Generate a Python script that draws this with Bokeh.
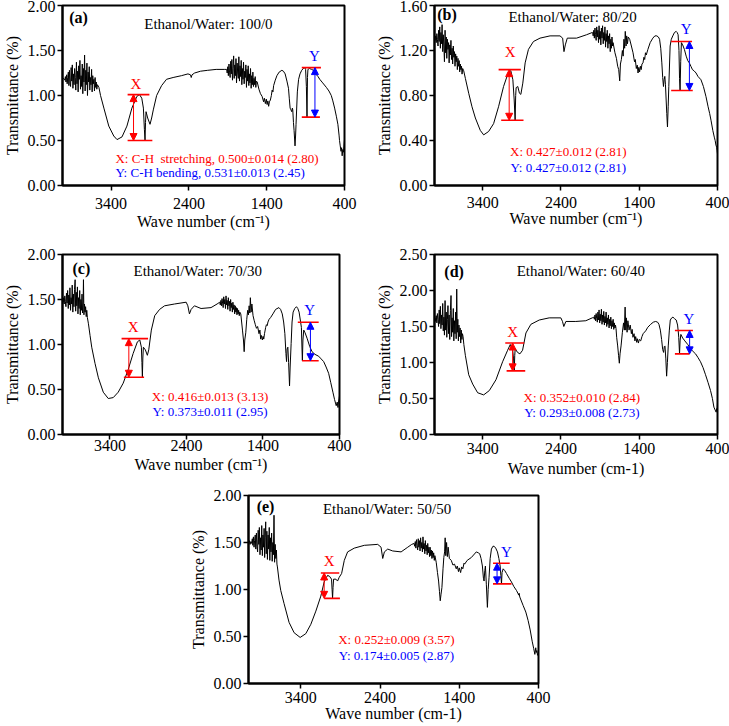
from bokeh.plotting import figure
from bokeh.layouts import column, row
from bokeh.models import Range1d, FixedTicker, NumeralTickFormatter, Arrow, NormalHead
from bokeh.core.properties import value
from bokeh.embed import file_html
from bokeh.resources import INLINE

FONT = "Liberation Serif"
RED = "#ff0000"
BLUE = "#0000ff"

x_ticks = [3400, 2400, 1400, 400]

# ---------------- spectra (wave number, transmittance) ----------------
spec_a = [(4025,1.18),(4010,1.19),(3995,1.17),(3988,1.21),(3980,1.15),(3972,1.23),(3965,1.13),(3958,1.20),(3950,1.26),(3943,1.11),(3936,1.28),(3928,1.14),(3921,1.10),(3914,1.31),(3906,1.16),(3899,1.34),(3891,1.08),(3884,1.24),(3876,1.12),(3869,1.30),(3861,1.20),(3854,1.06),(3846,1.37),(3839,1.13),(3831,1.27),(3824,1.04),(3816,1.33),(3809,1.18),(3801,1.39),(3794,1.07),(3786,1.22),(3779,1.10),(3771,1.35),(3764,1.02),(3756,1.30),(3749,1.15),(3741,1.45),(3734,1.05),(3726,1.28),(3719,1.12),(3711,1.36),(3704,1.00),(3696,1.26),(3689,1.15),(3681,1.32),(3674,1.06),(3666,1.20),(3659,1.12),(3651,1.29),(3644,1.04),(3636,1.22),(3629,1.13),(3621,1.18),(3614,1.05),(3606,1.20),(3599,1.09),(3591,1.15),(3584,1.07),(3576,1.12),
          (3557,1.09),(3536,1.00),(3493,0.86),(3430,0.66),(3366,0.55),(3324,0.51),(3260,0.54),(3197,0.66),(3133,0.86),(3069,0.99),(3035,1.01),(3006,0.97),(2985,0.86),(2972,0.62),(2964,0.50),(2958,0.70),(2951,0.82),(2930,0.75),(2900,0.68),(2879,0.75),(2858,0.84),(2815,1.00),(2751,1.11),(2688,1.18),(2603,1.20),(2497,1.22),(2412,1.24),(2380,1.23),(2370,1.20),(2360,1.23),(2327,1.25),(2250,1.27),(2158,1.28),(2050,1.29),(1946,1.29),
          (1915,1.29),(1908,1.25),(1900,1.32),(1893,1.22),(1885,1.35),(1878,1.26),(1870,1.20),(1863,1.38),(1855,1.24),(1848,1.40),(1840,1.17),(1833,1.30),(1825,1.44),(1818,1.19),(1810,1.34),(1803,1.22),(1795,1.41),(1788,1.14),(1780,1.36),(1773,1.25),(1765,1.19),(1758,1.43),(1750,1.16),(1743,1.33),(1735,1.21),(1728,1.39),(1720,1.12),(1713,1.30),(1705,1.18),(1698,1.37),(1690,1.13),(1683,1.27),(1675,1.20),(1668,1.34),(1660,1.09),(1653,1.29),(1645,1.16),(1638,1.33),(1630,1.11),(1623,1.24),(1615,1.14),(1608,1.30),(1600,1.08),(1593,1.22),(1585,1.12),(1578,1.26),(1570,1.10),(1563,1.19),(1555,1.12),(1548,1.21),(1540,1.09),(1533,1.16),
          (1522,1.15),(1500,1.07),(1480,1.02),(1459,0.99),(1440,0.93),(1430,0.97),(1417,0.91),(1405,0.96),(1395,0.90),(1385,0.94),(1375,0.88),(1365,0.93),(1353,0.95),(1340,1.00),(1330,1.06),(1320,1.04),(1311,1.11),(1290,1.17),(1269,1.22),(1240,1.26),(1205,1.28),(1185,1.27),(1163,1.24),(1140,1.16),(1120,1.08),(1110,0.97),(1099,0.86),(1088,0.84),(1078,0.82),(1070,0.86),(1065,0.84),(1056,0.70),(1048,0.61),(1036,0.44),(1029,0.55),(1023,0.68),(1006,1.04),(990,1.18),(972,1.24),(950,1.28),(930,1.30),(910,1.31),(900,1.29),(890,1.10),(882,0.76),(876,1.20),(870,1.29),(850,1.30),(824,1.29),(800,1.28),(782,1.27),(760,1.23),(740,1.21),(718,1.18),(680,1.14),(633,1.09),(600,1.05),(570,1.00),(550,0.94),(527,0.86),(505,0.77),(485,0.68),(470,0.56),(464,0.50),(455,0.44),(445,0.38),(437,0.42),(430,0.33),(422,0.40),(413,0.37),(405,0.46),(400,0.51)]

spec_b = [(4015,1.31),(4008,1.29),(4000,1.33),(3993,1.27),(3985,1.35),(3978,1.30),(3970,1.24),(3963,1.38),(3955,1.28),(3948,1.41),(3940,1.22),(3933,1.36),(3925,1.26),(3918,1.43),(3910,1.19),(3903,1.34),(3895,1.24),(3888,1.10),(3880,1.38),(3873,1.18),(3865,1.32),(3858,1.13),(3850,1.30),(3843,1.21),(3835,1.27),(3828,1.09),(3820,1.25),(3813,1.16),(3805,1.29),(3798,1.12),(3790,1.22),(3783,1.08),(3775,1.24),(3768,1.14),(3760,1.19),(3753,1.06),(3745,1.17),(3738,1.10),(3730,1.15),(3723,1.03),(3715,1.13),(3708,1.06),(3700,1.11),(3693,1.01),(3685,1.08),(3678,1.03),(3670,1.06),(3663,0.99),(3655,1.04),
          (3642,1.02),(3620,0.95),(3578,0.82),(3536,0.70),(3493,0.60),(3430,0.49),(3387,0.45),(3324,0.48),(3260,0.55),(3197,0.70),(3133,0.88),(3069,1.01),(3040,1.02),(3014,0.94),(2997,0.76),(2985,0.58),(2978,0.80),(2972,0.87),(2951,0.88),(2930,0.82),(2912,0.81),(2887,0.91),(2857,1.09),(2815,1.21),(2751,1.28),(2667,1.31),(2539,1.33),(2412,1.33),(2378,1.31),(2361,1.19),(2344,1.25),(2319,1.31),(2200,1.31),(2073,1.34),(2000,1.36),
          (1995,1.36),(1988,1.33),(1980,1.38),(1973,1.31),(1965,1.40),(1958,1.34),(1950,1.29),(1943,1.41),(1935,1.32),(1928,1.38),(1920,1.27),(1913,1.42),(1905,1.30),(1898,1.37),(1890,1.25),(1883,1.40),(1875,1.31),(1868,1.42),(1860,1.26),(1853,1.36),(1845,1.29),(1838,1.41),(1830,1.23),(1823,1.35),(1815,1.28),(1808,1.38),(1800,1.22),(1793,1.33),(1785,1.26),(1778,1.35),(1770,1.19),(1763,1.30),(1755,1.22),(1748,1.32),(1740,1.24),
          (1734,1.27),(1710,1.18),(1691,1.13),(1675,1.06),(1662,1.03),(1649,0.93),(1640,1.08),(1628,1.12),(1615,1.20),(1605,1.15),(1595,1.30),(1586,1.22),(1578,1.37),(1568,1.24),(1560,1.33),(1550,1.26),(1540,1.32),(1522,1.30),(1500,1.24),(1479,1.18),(1460,1.10),(1450,1.12),(1437,1.04),(1425,1.07),(1415,1.00),(1405,1.05),(1395,1.01),(1385,1.06),(1375,1.03),(1365,1.08),(1352,1.09),(1340,1.14),(1330,1.12),(1320,1.18),(1310,1.16),(1289,1.21),(1260,1.27),(1226,1.31),(1200,1.33),(1175,1.33),(1155,1.32),(1140,1.30),(1125,1.22),(1111,1.09),(1100,0.96),(1090,0.88),(1082,0.94),(1073,0.97),(1065,0.90),(1056,0.76),(1048,0.64),(1039,0.52),(1030,0.70),(1022,0.88),(1005,1.24),(990,1.30),(971,1.33),(950,1.36),(928,1.37),(915,1.36),(903,1.34),(892,1.20),(885,0.95),(878,0.845),(870,1.10),(861,1.27),(845,1.25),(823,1.21),(800,1.15),(780,1.11),(760,1.09),(740,1.06),(720,1.03),(700,1.02),(674,1.00),(650,0.97),(611,0.94),(580,0.88),(547,0.79),(520,0.70),(500,0.64),(483,0.58),(460,0.49),(441,0.43),(430,0.40),(420,0.36),(411,0.34),(405,0.31),(400,0.28)]

spec_c = [(4020,1.50),(4013,1.47),(4005,1.52),(3998,1.45),(3990,1.54),(3983,1.48),(3975,1.42),(3968,1.57),(3960,1.46),(3953,1.60),(3945,1.40),(3938,1.55),(3930,1.44),(3923,1.63),(3915,1.38),(3908,1.52),(3900,1.45),(3893,1.66),(3885,1.36),(3878,1.56),(3870,1.42),(3863,1.61),(3855,1.72),(3848,1.37),(3840,1.58),(3833,1.43),(3825,1.64),(3818,1.34),(3810,1.52),(3803,1.40),(3795,1.60),(3788,1.33),(3780,1.50),(3773,1.38),(3765,1.56),(3758,1.35),(3750,1.47),(3746,1.72),(3740,1.33),(3733,1.45),(3725,1.36),(3718,1.42),(3710,1.31),(3703,1.38),(3695,1.30),
          (3681,1.23),(3660,1.10),(3638,0.97),(3595,0.79),(3551,0.63),(3487,0.47),(3422,0.40),(3357,0.41),(3292,0.47),(3227,0.57),(3162,0.72),(3097,0.90),(3041,1.03),(3010,1.05),(2989,0.97),(2982,0.80),(2976,0.64),(2970,0.85),(2963,0.97),(2937,0.94),(2911,0.88),(2893,0.94),(2859,1.16),(2815,1.32),(2751,1.39),(2686,1.43),(2556,1.45),(2404,1.47),(2382,1.43),(2361,1.34),(2339,1.39),(2296,1.43),(2209,1.40),(2079,1.41),(2000,1.45),
          (1965,1.47),(1958,1.44),(1950,1.49),(1943,1.43),(1935,1.51),(1928,1.46),(1920,1.41),(1913,1.53),(1905,1.45),(1898,1.50),(1890,1.40),(1883,1.54),(1875,1.44),(1868,1.49),(1860,1.39),(1853,1.52),(1845,1.43),(1838,1.48),(1830,1.37),(1823,1.50),(1815,1.41),(1808,1.46),(1800,1.36),(1793,1.47),(1785,1.39),(1778,1.44),(1770,1.34),(1763,1.43),(1755,1.36),(1748,1.41),(1740,1.33),(1733,1.40),(1725,1.34),(1718,1.38),(1710,1.32),(1703,1.36),
          (1690,1.34),(1668,1.16),(1655,1.05),(1646,0.92),(1638,1.05),(1625,1.13),(1612,1.28),(1600,1.38),(1590,1.33),(1581,1.43),(1572,1.35),(1565,1.52),(1555,1.36),(1545,1.45),(1530,1.32),(1516,1.27),(1500,1.22),(1485,1.18),(1470,1.20),(1452,1.12),(1440,1.16),(1430,1.06),(1420,1.10),(1408,1.05),(1398,1.09),(1390,1.06),(1380,1.12),(1365,1.19),(1355,1.22),(1345,1.21),(1335,1.25),(1320,1.28),(1300,1.30),(1270,1.34),(1235,1.39),(1192,1.41),(1170,1.39),(1148,1.34),(1130,1.25),(1114,1.12),(1100,0.90),(1092,0.81),(1085,0.95),(1075,0.97),(1065,0.80),(1053,0.54),(1045,0.75),(1032,1.01),(1020,1.25),(1006,1.36),(985,1.40),(962,1.42),(945,1.40),(928,1.36),(910,1.26),(898,1.19),(890,0.95),(885,0.82),(878,1.05),(867,1.16),(850,1.13),(824,1.07),(790,0.98),(759,0.92),(720,0.89),(673,0.87),(640,0.84),(607,0.81),(575,0.75),(542,0.68),(515,0.58),(486,0.47),(465,0.39),(443,0.32),(430,0.36),(420,0.30),(413,0.36),(405,0.40),(400,0.43)]

spec_d = [(4015,1.60),(4008,1.62),(4000,1.57),(3993,1.65),(3985,1.55),(3978,1.68),(3970,1.60),(3963,1.50),(3955,1.73),(3948,1.54),(3940,1.78),(3933,1.47),(3925,1.66),(3918,1.52),(3910,1.82),(3903,1.44),(3895,1.63),(3888,1.38),(3880,1.86),(3873,1.45),(3865,1.70),(3858,1.35),(3850,1.60),(3843,1.79),(3835,1.40),(3828,1.66),(3820,1.32),(3812,1.72),(3804,1.93),(3797,1.36),(3790,1.62),(3783,1.42),(3775,1.75),(3768,1.30),(3760,1.58),(3753,1.40),(3745,1.70),(3738,1.33),(3731,2.02),(3724,1.42),(3717,1.60),(3710,1.30),(3703,1.52),(3695,1.36),(3688,1.48),(3680,1.27),(3673,1.45),(3665,1.32),(3658,1.40),
          (3650,1.36),(3640,1.25),(3621,1.10),(3578,0.83),(3527,0.70),(3464,0.58),(3387,0.55),(3315,0.61),(3230,0.76),(3145,1.01),(3081,1.17),(3047,1.25),(3017,1.17),(3005,1.05),(2996,0.884),(2990,1.10),(2984,1.19),(2954,1.14),(2924,1.12),(2890,1.17),(2847,1.41),(2784,1.53),(2677,1.59),(2550,1.62),(2401,1.62),(2380,1.57),(2363,1.50),(2337,1.57),(2210,1.57),(2082,1.58),(2000,1.62),
          (1980,1.63),(1973,1.60),(1965,1.66),(1958,1.58),(1950,1.68),(1943,1.61),(1935,1.56),(1928,1.70),(1920,1.59),(1913,1.73),(1905,1.55),(1898,1.67),(1890,1.58),(1883,1.74),(1875,1.53),(1868,1.66),(1860,1.56),(1853,1.71),(1845,1.52),(1838,1.64),(1830,1.55),(1823,1.70),(1815,1.50),(1808,1.62),(1800,1.53),(1793,1.66),(1785,1.48),(1778,1.60),(1770,1.51),(1763,1.63),(1755,1.47),(1748,1.58),(1740,1.50),(1733,1.60),(1725,1.46),(1718,1.55),(1710,1.48),(1703,1.52),
          (1696,1.47),(1688,1.35),(1675,1.23),(1664,1.10),(1654,0.99),(1645,1.12),(1632,1.23),(1615,1.42),(1600,1.55),(1590,1.45),(1580,1.77),(1572,1.45),(1565,1.62),(1555,1.42),(1545,1.58),(1530,1.45),(1515,1.52),(1500,1.40),(1490,1.46),(1480,1.35),(1466,1.40),(1455,1.30),(1445,1.36),(1432,1.28),(1424,1.33),(1410,1.27),(1400,1.32),(1381,1.30),(1365,1.36),(1350,1.40),(1317,1.44),(1290,1.49),(1254,1.53),(1220,1.56),(1190,1.57),(1165,1.56),(1148,1.53),(1130,1.45),(1114,1.32),(1100,1.18),(1088,1.14),(1080,1.22),(1071,1.23),(1060,1.05),(1050,0.81),(1040,1.00),(1029,1.23),(1015,1.45),(1003,1.59),(985,1.62),(969,1.63),(950,1.61),(927,1.59),(910,1.52),(902,1.44),(895,1.35),(885,1.12),(878,1.30),(868,1.39),(845,1.34),(817,1.30),(780,1.25),(744,1.19),(710,1.15),(680,1.12),(650,1.07),(617,1.01),(585,0.93),(553,0.83),(520,0.72),(489,0.61),(465,0.50),(446,0.38),(430,0.34),(417,0.31),(410,0.36),(405,0.33),(400,0.45)]

spec_e = [(4060,1.50),(4050,1.52),(4040,1.48),(4030,1.51),(4020,1.49),(4012,1.54),(4005,1.47),(3998,1.56),(3990,1.45),(3983,1.52),(3975,1.58),(3968,1.43),(3960,1.60),(3953,1.46),(3945,1.40),(3938,1.63),(3930,1.48),(3923,1.66),(3915,1.37),(3908,1.55),(3900,1.42),(3893,1.68),(3885,1.36),(3878,1.58),(3870,1.45),(3863,1.65),(3856,1.34),(3850,1.55),(3843,1.72),(3836,1.38),(3828,1.62),(3821,1.32),(3813,1.58),(3806,1.43),(3798,1.66),(3791,1.31),(3783,1.55),(3776,1.40),(3768,1.60),(3761,1.30),(3753,1.50),(3746,1.37),(3738,1.79),(3731,1.29),(3723,1.48),(3716,1.33),(3708,1.42),(3701,1.27),
          (3695,1.24),(3675,1.10),(3653,0.99),(3611,0.85),(3548,0.65),(3484,0.54),(3408,0.49),(3337,0.53),(3273,0.63),(3210,0.77),(3147,0.93),(3105,1.08),(3062,1.15),(3037,1.14),(3012,1.11),(3005,1.00),(2999,0.906),(2993,1.02),(2986,1.11),(2957,1.11),(2936,1.09),(2915,1.13),(2885,1.17),(2851,1.31),(2809,1.40),(2725,1.44),(2598,1.47),(2429,1.48),(2387,1.45),(2366,1.33),(2345,1.40),(2303,1.43),(2240,1.41),(2134,1.40),(2050,1.45),(2000,1.48),
          (1970,1.49),(1963,1.46),(1955,1.51),(1948,1.44),(1940,1.53),(1933,1.47),(1925,1.42),(1918,1.54),(1910,1.45),(1903,1.52),(1895,1.41),(1888,1.55),(1880,1.44),(1873,1.50),(1865,1.40),(1858,1.56),(1850,1.43),(1843,1.49),(1835,1.38),(1828,1.52),(1820,1.41),(1813,1.47),(1805,1.37),(1798,1.49),(1790,1.39),(1783,1.45),(1775,1.35),(1768,1.45),(1760,1.36),(1753,1.42),(1745,1.33),(1738,1.41),(1730,1.34),(1723,1.39),(1715,1.31),(1708,1.36),
          (1691,1.29),(1675,1.18),(1661,1.09),(1650,0.98),(1640,0.88),(1630,0.95),(1619,1.02),(1605,1.22),(1595,1.34),(1585,1.40),(1578,1.55),(1570,1.36),(1560,1.50),(1550,1.35),(1540,1.45),(1525,1.33),(1501,1.31),(1480,1.26),(1460,1.27),(1438,1.22),(1425,1.25),(1410,1.19),(1400,1.23),(1383,1.18),(1370,1.24),(1355,1.22),(1340,1.28),(1332,1.27),(1300,1.31),(1248,1.34),(1185,1.40),(1160,1.39),(1142,1.38),(1125,1.33),(1108,1.25),(1095,1.12),(1087,1.09),(1078,1.20),(1070,1.25),(1058,1.05),(1045,0.81),(1035,1.00),(1024,1.13),(1010,1.33),(994,1.43),(975,1.46),(960,1.46),(940,1.44),(918,1.40),(900,1.33),(884,1.25),(875,1.15),(867,1.06),(860,1.18),(846,1.22),(825,1.20),(804,1.17),(770,1.12),(741,1.08),(710,1.03),(678,0.99),(660,0.96),(650,0.94),(645,0.96),(636,0.92),(594,0.83),(560,0.76),(531,0.67),(505,0.57),(480,0.45),(460,0.37),(446,0.31),(435,0.38),(428,0.33),(421,0.35),(412,0.30),(404,0.31),(400,0.36)]

# ---------------- X / Y band markers: (x_left, x_right, level) ----------------
x_top_a, x_bot_a, x_arrow_a = (3188, 2908, 1.01), (3188, 2870, 0.50), 3112
y_top_a, y_bot_a, y_arrow_a = (949, 703, 1.31), (949, 716, 0.76), 780
x_top_b, x_bot_b, x_arrow_b = (3196, 2912, 1.03), (3163, 2878, 0.58), 3061
y_top_b, y_bot_b, y_arrow_b = (992, 725, 1.28), (992, 716, 0.845), 759
x_top_c, x_bot_c, x_arrow_c = (3248, 2902, 1.065), (3218, 2954, 0.636), 3153
y_top_c, y_bot_c, y_arrow_c = (945, 672, 1.247), (889, 672, 0.82), 780
x_top_d, x_bot_d, x_arrow_d = (3111, 2869, 1.27), (3094, 2856, 0.884), 3017
y_top_d, y_bot_d, y_arrow_d = (944, 714, 1.445), (944, 756, 1.12), 756
x_top_e, x_bot_e, x_arrow_e = (3147, 2915, 1.176), (3105, 2906, 0.906), 3105
y_top_e, y_bot_e, y_arrow_e = (974, 763, 1.28), (974, 741, 1.06), 923

titles = ["Ethanol/Water: 100/0", "Ethanol/Water: 80/20", "Ethanol/Water: 70/30",
          "Ethanol/Water: 60/40", "Ethanol/Water: 50/50"]
letters = ["(a)", "(b)", "(c)", "(d)", "(e)"]
x_texts = ["X: C-H\u00a0 stretching, 0.500\u00b10.014 (2.80)", "X: 0.427\u00b10.012 (2.81)",
           "X: 0.416\u00b10.013 (3.13)", "X: 0.352\u00b10.010 (2.84)", "X: 0.252\u00b10.009 (3.57)"]
y_texts = ["Y: C-H bending, 0.531\u00b10.013 (2.45)", "Y: 0.427\u00b10.012 (2.81)",
           "Y: 0.373\u00b10.011 (2.95)", "Y: 0.293\u00b10.008 (2.73)", "Y: 0.174\u00b10.005 (2.87)"]
x_labels = ["Wave number (cm\u207b\u00b9)", "Wave number (cm\u207b\u00b9)", "Wave number (cm\u207b\u00b9)",
            "Wave number (cm-1)", "Wave number (cm-1)"]
y_max = [2.0, 1.6, 2.0, 2.5, 2.0]
y_step = [0.5, 0.4, 0.5, 0.5, 0.5]
x_start = [4025, 4015, 4020, 4015, 4060]

# ---------------- layout / placement (styles) ----------------
geo = [
    dict(w=372, h=240, l=58, r=28, t=5, b=52, ts=7, ls=1),
    dict(w=357, h=240, l=60, r=12, t=5, b=55, ts=6, ls=-1),
    dict(w=372, h=245, l=60, r=33, t=11, b=51, ts=0, ls=2),
    dict(w=357, h=245, l=61, r=12, t=14, b=45, ts=3, ls=3),
    dict(w=729, h=241, l=248, r=191, t=10, b=43, ts=3, ls=-1),
]
# text anchors in data units
place = [
    dict(letter=(3938, 1.87), title=(2149, 1.79), xl=(3082, 1.13), yl=(788, 1.44), txt=(3345, 0.30, 0.145, "left")),
    dict(letter=(3981, 1.52), title=(2251, 1.50), xl=(3048, 1.19), yl=(801, 1.39), txt=(2306, 0.30, 0.16, "center")),
    dict(letter=(3889, 1.85), title=(2253, 1.82), xl=(3097, 1.19), yl=(789, 1.385), txt=(2092, 0.42, 0.26, "center")),
    dict(letter=(3889, 2.27), title=(2146, 2.27), xl=(3017, 1.42), yl=(765, 1.60), txt=(2133, 0.51, 0.30, "center")),
    dict(letter=(3957, 1.88), title=(2311, 1.86), xl=(3041, 1.30), yl=(805, 1.40), txt=(2193, 0.465, 0.295, "center")),
]

specs = [spec_a, spec_b, spec_c, spec_d, spec_e]
marks = [
    (x_top_a, x_bot_a, x_arrow_a, y_top_a, y_bot_a, y_arrow_a),
    (x_top_b, x_bot_b, x_arrow_b, y_top_b, y_bot_b, y_arrow_b),
    (x_top_c, x_bot_c, x_arrow_c, y_top_c, y_bot_c, y_arrow_c),
    (x_top_d, x_bot_d, x_arrow_d, y_top_d, y_bot_d, y_arrow_d),
    (x_top_e, x_bot_e, x_arrow_e, y_top_e, y_bot_e, y_arrow_e),
]


def band(p, top, bot, ax, color):
    p.segment(x0=[top[0], bot[0]], y0=[top[2], bot[2]], x1=[top[1], bot[1]], y1=[top[2], bot[2]],
              line_color=RED, line_width=1.6)
    p.add_layout(Arrow(start=NormalHead(size=7, fill_color=color, line_color=color),
                       end=NormalHead(size=7, fill_color=color, line_color=color),
                       x_start=ax, y_start=bot[2], x_end=ax, y_end=top[2],
                       line_color=color, line_width=1))


def make_panel(i):
    g = geo[i]
    pl = place[i]
    p = figure(width=g["w"], height=g["h"], min_border_left=g["l"], min_border_right=g["r"],
               min_border_top=g["t"], min_border_bottom=g["b"],
               x_range=Range1d(x_start[i], 400), y_range=Range1d(0, y_max[i]),
               output_backend="svg", toolbar_location=None, background_fill_color="white",
               border_fill_color="white")
    p.grid.visible = False
    p.outline_line_color = "black"
    p.outline_line_width = 2
    p.outline_line_alpha = 1
    n = int(round(y_max[i] / y_step[i]))
    yt = [round(k * y_step[i], 2) for k in range(n + 1)]
    p.xaxis.ticker = FixedTicker(ticks=x_ticks)
    p.yaxis.ticker = FixedTicker(ticks=yt)
    p.yaxis.formatter = NumeralTickFormatter(format="0.00")
    for ax in (p.xaxis[0], p.yaxis[0]):
        ax.axis_line_width = 2
        ax.axis_line_color = "black"
        ax.major_tick_line_width = 1.5
        ax.major_tick_in = 0
        ax.major_tick_out = 5
        ax.minor_tick_line_color = None
        ax.major_label_text_font = FONT
        ax.major_label_text_font_size = "16px"
        ax.major_label_text_color = "black"
        ax.axis_label_text_font = FONT
        ax.axis_label_text_font_size = "16px"
        ax.axis_label_text_font_style = "normal"
        ax.axis_label_text_color = "black"
    p.xaxis.axis_label = x_labels[i]
    p.yaxis.axis_label = "Transmittance (%)"
    p.xaxis.major_label_standoff = g["ts"]
    p.xaxis.axis_label_standoff = g["ls"]
    p.yaxis.major_label_standoff = 2
    p.yaxis.axis_label_standoff = 4

    xs = [v[0] for v in specs[i]]
    ys = [v[1] for v in specs[i]]
    p.line(xs, ys, line_color="black", line_width=1)

    xt, xb, xa, ytp, ybt, ya = marks[i]
    band(p, xt, xb, xa, RED)
    band(p, ytp, ybt, ya, BLUE)

    p.text(x=[pl["letter"][0]], y=[pl["letter"][1]], text=[letters[i]], text_font=value(FONT),
           text_font_size="16px", text_font_style="bold", text_align="left", text_baseline="middle",
           text_color="black")
    p.text(x=[pl["title"][0]], y=[pl["title"][1]], text=[titles[i]], text_font=value(FONT),
           text_font_size="15px", text_align="center", text_baseline="middle", text_color="black")
    p.text(x=[pl["xl"][0]], y=[pl["xl"][1]], text=["X"], text_font=value(FONT),
           text_font_size="15px", text_align="center", text_baseline="middle", text_color=RED)
    p.text(x=[pl["yl"][0]], y=[pl["yl"][1]], text=["Y"], text_font=value(FONT),
           text_font_size="15px", text_align="center", text_baseline="middle", text_color=BLUE)
    tx, ty1, ty2, al = pl["txt"]
    p.text(x=[tx], y=[ty1], text=[x_texts[i]], text_font=value(FONT), text_font_size="13px",
           text_align=al, text_baseline="middle", text_color=RED)
    p.text(x=[tx], y=[ty2], text=[y_texts[i]], text_font=value(FONT), text_font_size="13px",
           text_align=al, text_baseline="middle", text_color=BLUE)
    return p


panels = [make_panel(i) for i in range(5)]
layout = column(row(panels[0], panels[1]), row(panels[2], panels[3]), panels[4])

open("out.html", "w").write(file_html(layout, INLINE))
